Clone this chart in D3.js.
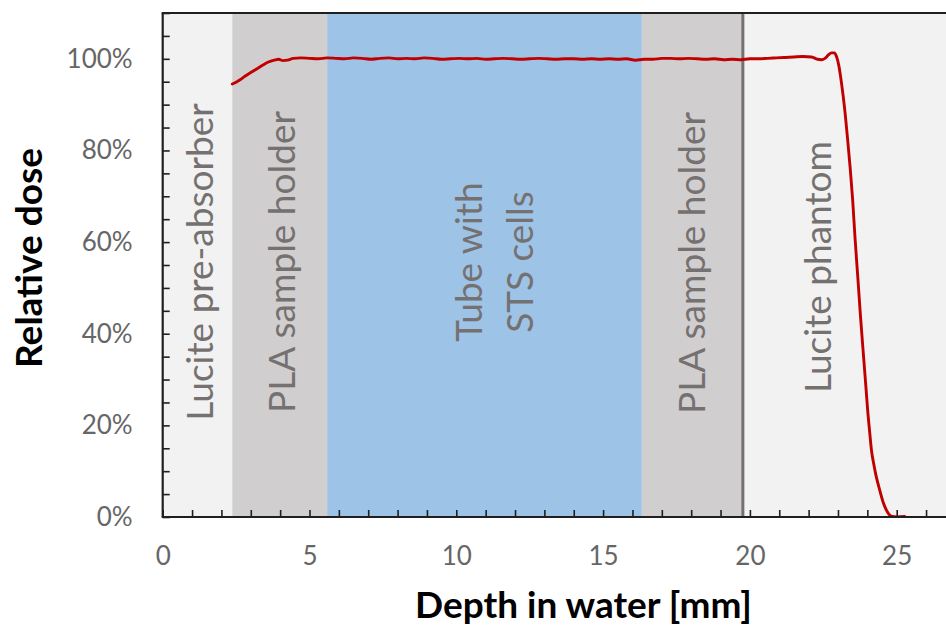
<!DOCTYPE html>
<html>
<head>
<meta charset="utf-8">
<script src="https://cdn.jsdelivr.net/npm/d3@7/dist/d3.min.js"></script>
<style>
  html, body { margin: 0; padding: 0; background: #ffffff; }
  svg { display: block; }
</style>
</head>
<body>
<svg id="chart" width="946" height="628"></svg>
<script>
// ---------------- data ----------------
const xTicks = [0, 5, 10, 15, 20, 25];
const yTicks = [0, 20, 40, 60, 80, 100];
const yTickLabels = ["0%", "20%", "40%", "60%", "80%", "100%"];

const regionNames = ["Lucite pre-absorber", "PLA sample holder", "Tube with\nSTS cells", "PLA sample holder", "Lucite phantom"];
const regionKinds = ["lucite", "pla", "tube", "pla", "lucite"];
const regionStart = [0, 2.37, 5.60, 16.32, 19.76];
const regionEnd   = [2.37, 5.60, 16.32, 19.76, 27];
const interfaceDepth = [19.76];

const depth = [
  2.37, 2.50, 2.65, 2.80, 3.00, 3.20, 3.40, 3.60, 3.80, 3.95, 4.10, 4.25, 4.45, 4.70,
  5.0, 5.3, 5.6, 5.9, 6.2, 6.5, 6.8, 7.1, 7.4, 7.7, 8.0, 8.3, 8.6, 8.9, 9.2, 9.5, 9.8,
  10.1, 10.4, 10.7, 11.0, 11.3, 11.6, 11.9, 12.2, 12.5, 12.8, 13.1, 13.4, 13.7, 14.0,
  14.3, 14.6, 14.9, 15.2, 15.5, 15.8, 16.1, 16.4, 16.7, 17.0, 17.3, 17.6, 17.9, 18.2,
  18.5, 18.8, 19.1, 19.4, 19.7, 20.0, 20.3, 20.6, 20.9, 21.2, 21.5, 21.8, 22.1,
  22.30, 22.45, 22.58, 22.68, 22.78, 22.88, 22.95, 23.03, 23.12, 23.22, 23.33, 23.42,
  23.50, 23.58, 23.67, 23.77, 23.88, 23.95, 24.01, 24.08, 24.14, 24.22, 24.29, 24.42,
  24.55, 24.65, 24.75, 24.85, 25.00, 25.27
];
const dose = [
  94.5, 94.9, 95.5, 96.2, 97.0, 97.8, 98.6, 99.3, 99.7, 99.9, 99.6, 99.7, 100.1, 100.2,
  100.1, 100.0, 100.2, 100.1, 100.0, 100.2, 100.1, 99.9, 100.1, 100.2, 100.0, 100.1, 100.0, 100.2, 100.1, 99.9, 100.0,
  100.1, 100.0, 100.1, 99.9, 100.0, 100.1, 100.0, 99.9, 100.0, 100.1, 100.0, 99.9, 100.0, 100.0,
  99.9, 100.0, 99.9, 100.0, 99.9, 100.0, 99.7, 99.9, 99.9, 100.1, 100.1, 100.0, 100.1, 100.0,
  99.9, 100.0, 99.8, 99.9, 99.8, 100.0, 100.0, 100.1, 100.2, 100.3, 100.4, 100.5, 100.4,
  99.9, 99.8, 100.2, 100.9, 101.3, 101.3, 100.5, 98.5, 94.7, 89.5, 82.3, 75.8,
  69.2, 61.0, 52.8, 43.5, 34.3, 28.5, 23.4, 18.5, 14.6, 11.5, 9.2, 5.9,
  3.0, 1.5, 0.5, 0.1, 0.0, 0.1
];

// ---------------- styles ----------------
const fills = { lucite: "#f2f2f2", pla: "#d0cece", tube: "#9dc3e6" };
const labelColor = "#767171";
const tickColor = "#666666";
const axisColor = "#1f1f1f";
const lineColor = "#c00000";

// ---------------- layout ----------------
const svg = d3.select("#chart");
const W = 946, H = 628;
const pLeft = 162.7, pBottom = 517, pTop = 13;
const pxPerMm = 29.36;
const xMax = 27;
const pRight = pLeft + xMax * pxPerMm;

const x = d3.scaleLinear().domain([0, xMax]).range([pLeft, pRight]);
const y = d3.scaleLinear().domain([0, 110]).range([pBottom, pTop]);

svg.append("defs").append("clipPath").attr("id", "plotclip")
  .append("rect").attr("x", pLeft).attr("y", pTop).attr("width", pRight - pLeft).attr("height", pBottom - pTop);

const plot = svg.append("g").attr("clip-path", "url(#plotclip)");

// regions
const regions = regionNames.map((n, i) => ({ name: n, kind: regionKinds[i], s: regionStart[i], e: regionEnd[i] }));
plot.selectAll("rect.region").data(regions).join("rect")
  .attr("class", "region")
  .attr("x", d => x(d.s))
  .attr("y", y(110))
  .attr("width", d => x(d.e) - x(d.s))
  .attr("height", y(0) - y(110))
  .attr("fill", d => fills[d.kind]);

// interface line
plot.selectAll("line.iface").data(interfaceDepth).join("line")
  .attr("class", "iface")
  .attr("x1", d => x(d)).attr("x2", d => x(d))
  .attr("y1", y(110)).attr("y2", y(0))
  .attr("stroke", "#767171").attr("stroke-width", 3);

// region labels
const labelFont = "Lato, 'Open Sans', sans-serif";
const labelPos = [
  { bx: 213, cy: 262 },
  { bx: 295, cy: 262 },
  { bx: 482, cy: 262, bx2: 533 },
  { bx: 705, cy: 263 },
  { bx: 831, cy: 267 }
];
regions.forEach((r, i) => {
  const lines = r.name.split("\n");
  lines.forEach((ln, j) => {
    const bx = j === 0 ? labelPos[i].bx : labelPos[i].bx2;
    svg.append("text")
      .attr("transform", `translate(${bx},${labelPos[i].cy}) rotate(-90)`)
      .attr("text-anchor", "middle")
      .attr("font-family", labelFont)
      .attr("font-size", 37)
      .attr("fill", labelColor)
      .text(ln);
  });
});

// dose curve
const pts = depth.map((d, i) => [d, dose[i]]);
const line = d3.line().x(d => x(d[0])).y(d => y(d[1])).curve(d3.curveMonotoneX);
plot.append("path")
  .attr("d", line(pts))
  .attr("fill", "none")
  .attr("stroke", lineColor)
  .attr("stroke-width", 2.9)
  .attr("stroke-linejoin", "round")
  .attr("stroke-linecap", "round");

// axes ticks (inward)
const xAxis = d3.axisBottom(x)
  .tickValues(d3.range(0, xMax + 1, 1))
  .tickSize(-7)
  .tickPadding(30)
  .tickFormat(d => xTicks.includes(d) ? String(d) : "");
const gx = svg.append("g").attr("transform", `translate(0,${pBottom})`).call(xAxis);
gx.select(".domain").remove();
gx.selectAll(".tick line").attr("stroke", axisColor).attr("stroke-width", 1.6);
gx.selectAll(".tick text").attr("font-family", labelFont).attr("font-size", 26).attr("fill", tickColor);

const yAxis = d3.axisLeft(y)
  .tickValues(d3.range(0, 111, 5))
  .tickSize(-7)
  .tickPadding(30)
  .tickFormat(d => { const k = yTicks.indexOf(d); return k >= 0 ? yTickLabels[k] : ""; });
const gy = svg.append("g").attr("transform", `translate(${pLeft},0)`).call(yAxis);
gy.select(".domain").remove();
gy.selectAll(".tick line").attr("stroke", axisColor).attr("stroke-width", 1.6);
gy.selectAll(".tick text").attr("font-family", labelFont).attr("font-size", 26).attr("fill", tickColor);

// frame lines: left, bottom, top
svg.append("line").attr("x1", pLeft).attr("x2", pLeft).attr("y1", pTop).attr("y2", pBottom)
  .attr("stroke", axisColor).attr("stroke-width", 2.2);
svg.append("line").attr("x1", pLeft - 1).attr("x2", W + 20).attr("y1", pBottom).attr("y2", pBottom)
  .attr("stroke", axisColor).attr("stroke-width", 2.2);
svg.append("line").attr("x1", pLeft - 1).attr("x2", W + 20).attr("y1", pTop).attr("y2", pTop)
  .attr("stroke", axisColor).attr("stroke-width", 2.2);

// axis titles
function fit(sel, target) {
  const n = sel.node();
  const len = n.getComputedTextLength();
  const fs = parseFloat(sel.attr("font-size"));
  if (len > 0) sel.attr("font-size", fs * target / len);
}
const yt = svg.append("text")
  .attr("transform", `translate(42,258) rotate(-90)`)
  .attr("text-anchor", "middle")
  .attr("font-family", labelFont).attr("font-weight", "bold")
  .attr("font-size", 35).attr("fill", "#000")
  .text("Relative dose");
fit(yt, 220);
const xt = svg.append("text")
  .attr("x", 583.5).attr("y", 618)
  .attr("text-anchor", "middle")
  .attr("font-family", labelFont).attr("font-weight", "bold")
  .attr("font-size", 35).attr("fill", "#000")
  .text("Depth in water [mm]");
fit(xt, 337);
</script>
</body>
</html>
